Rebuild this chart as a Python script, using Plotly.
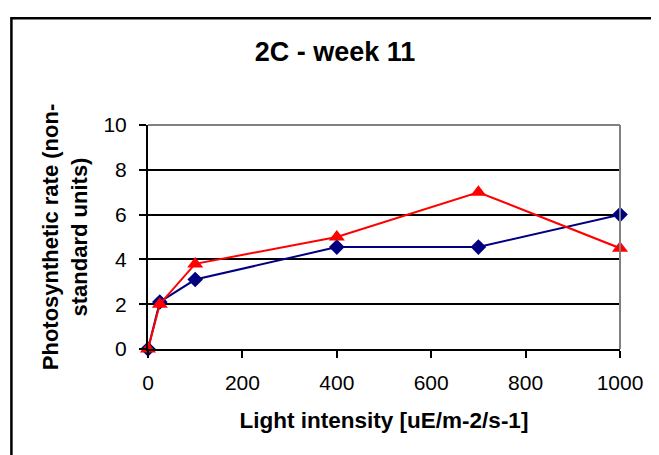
import plotly.graph_objects as go

# light intensity (uE/m-2/s-1)
light = [0, 25, 100, 400, 700, 1000]
# photosynthetic rate, two series
rate_blue = [0, 2.1, 3.1, 4.55, 4.55, 6.0]
rate_red = [0, 2.0, 3.8, 5.0, 7.0, 4.5]

x_ticks = [0, 200, 400, 600, 800, 1000]
y_ticks = [0, 2, 4, 6, 8, 10]

fnt = "Liberation Sans, Arial, sans-serif"

# page body adds an offset of about 8px, so the figure is a bit smaller
W, H = 651, 448

blue_trace = go.Scatter(
    x=light, y=rate_blue, mode="lines+markers",
    line=dict(color="#000080", width=2),
    marker=dict(symbol="diamond", size=12, color="#000080"),
    cliponaxis=False, name="blue"
)
red_trace = go.Scatter(
    x=light, y=rate_red, mode="lines+markers",
    line=dict(color="#FF0000", width=2),
    marker=dict(symbol="triangle-up", size=14, color="#FF0000"),
    cliponaxis=False, name="red"
)

layout = go.Layout(
    width=W, height=H,
    margin=dict(l=140, r=39, t=117, b=107),
    paper_bgcolor="white", plot_bgcolor="white",
    showlegend=False,
    font=dict(family=fnt, color="black", size=21),
    title=dict(
        text="<b>2C - week 11</b>", font=dict(size=27, family=fnt),
        x=(335 - 8) / W, xref="container", xanchor="center",
        y=1 - (52 - 8) / H, yref="container", yanchor="middle"
    ),
    xaxis=dict(
        range=[0, 1000], tickvals=x_ticks, showgrid=False, zeroline=False,
        showline=True, linecolor="black", linewidth=2,
        ticks="outside", ticklen=7, tickwidth=2, tickcolor="black",
        tickfont=dict(size=21), ticklabelstandoff=7,
        title=dict(text="<b>Light intensity [uE/m-2/s-1]</b>",
                   font=dict(size=22.5), standoff=19)
    ),
    yaxis=dict(
        range=[0, 10], tickvals=y_ticks, showgrid=True, gridcolor="black",
        gridwidth=1.5, zeroline=False,
        showline=True, linecolor="black", linewidth=2,
        ticks="outside", ticklen=7, tickwidth=2, tickcolor="black",
        tickfont=dict(size=21), ticklabelstandoff=8,
        title=dict(text="<b>Photosynthetic rate (non-<br>standard units)</b>",
                   font=dict(size=22), standoff=10)
    ),
    shapes=[
        # gray plot-area border on top and right
        dict(type="line", xref="paper", yref="paper", x0=0, x1=1, y0=1, y1=1,
             line=dict(color="#808080", width=2), layer="above"),
        dict(type="line", xref="paper", yref="paper", x0=1, x1=1, y0=0, y1=1,
             line=dict(color="#808080", width=2), layer="above"),
        # chart area border (top and left visible)
        dict(type="rect", xref="paper", yref="paper",
             x0=-0.2894, x1=1.3, y0=-0.7, y1=1.477,
             line=dict(color="black", width=2.5), layer="below"),
    ]
)

fig = go.Figure(data=[blue_trace, red_trace], layout=layout)
fig.write_html("out.html")
